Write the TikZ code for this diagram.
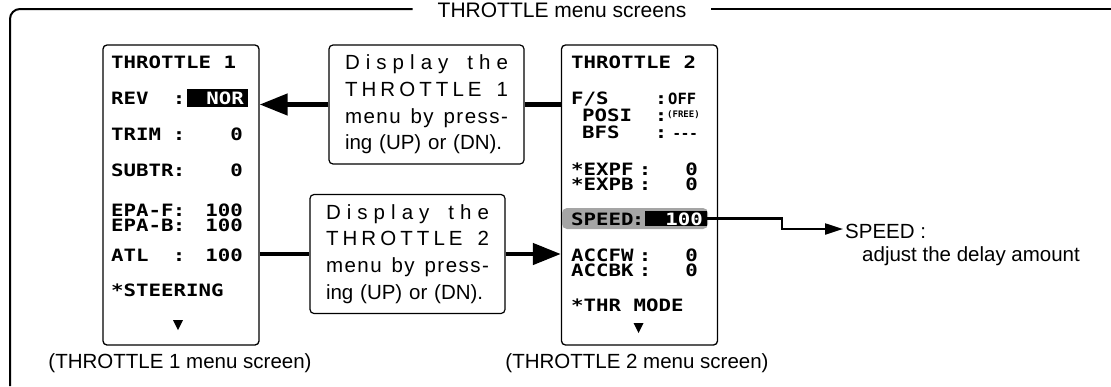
\documentclass[tikz,border=0pt]{standalone}
\usepackage{fontspec}
\setmainfont{Liberation Sans}
\newfontfamily\lcd[FakeStretch=1.22]{DejaVu Sans Mono}
\newfontfamily\lcdsm{DejaVu Sans Mono}
\usetikzlibrary{arrows.meta}
\definecolor{hlgray}{RGB}{165,165,165}
\begin{document}
\begin{tikzpicture}[x=1pt,y=-1pt,
  lcdtxt/.style={inner sep=0pt,font=\lcd\bfseries\fontsize{17}{17}\selectfont},
  lbl/.style={lcdtxt,anchor=base west},
  val/.style={lcdtxt,anchor=base east},
  colon/.style={lcdtxt,anchor=base},
  narrow/.style={inner sep=0pt,font=\lcdsm\bfseries\fontsize{15.5}{15.5}\selectfont},
  screen/.style={draw,line width=1.3pt,rounded corners=4pt,minimum width=156pt,minimum height=300pt,inner sep=0pt},
  tbox/.style={draw,line width=1.2pt,rounded corners=4pt,minimum width=195pt,minimum height=119pt,align=left,text width=163pt,inner sep=0pt,font=\fontsize{20.5}{26.7}\selectfont},
  fat/.style={line width=4.5pt},
  fatarrow/.style={line width=4.5pt,-{Triangle[length=28pt,width=21pt]}},
  thinarrow/.style={line width=2.2pt,-{Triangle[length=18pt,width=11pt]}},
  plain/.style={inner sep=0pt,font=\fontsize{20.5}{24}\selectfont},
  blk/.style={fill=black,inner sep=0pt}
]
\useasboundingbox (0,0) rectangle (1111,386);

% outer frame with title
\node[plain,font=\fontsize{21}{24}\selectfont,inner xsep=25pt,anchor=base] (title) at (562,17) {THROTTLE menu screens};
\coordinate (ftop) at (0,9);
\coordinate (fbot) at (10,386);
\coordinate (fright) at (1111,9);
\draw[line width=2pt,rounded corners=10pt] (fbot) -- (10,9) -- (title.west |- ftop);
\draw[line width=2pt] (title.east |- ftop) -- (fright);

% screens
\node[screen] (s1) at (181,195) {};
\node[screen] (s2) at (639.5,195) {};

% screen 1 contents
\node[lbl] (l1) at (111,68.5) {THROTTLE 1};
\node[blk,minimum width=61pt,minimum height=18pt] (norbox) at (217.5,98) {};
\node[lbl] (l2) at (111,104.5) {REV};
\node[colon] (l2c) at (179,104.5) {:};
\node[val,text=white] (l2v) at (244,104.5) {NOR};
\node[lbl] (l3) at (111,140.5) {TRIM};
\node[colon] (l3c) at (179,140.5) {:};
\node[val] (l3v) at (243,140.5) {0};
\node[lbl] (l4) at (111,176.5) {SUBTR};
\node[colon] (l4c) at (179,176.5) {:};
\node[val] (l4v) at (243,176.5) {0};
\node[lbl] (l5) at (111,216.5) {EPA-F};
\node[colon] (l5c) at (179,216.5) {:};
\node[val] (l5v) at (243,216.5) {100};
\node[lbl] (l6) at (111,231.5) {EPA-B};
\node[colon] (l6c) at (179,231.5) {:};
\node[val] (l6v) at (243,231.5) {100};
\node[lbl] (l7) at (111,261.5) {ATL};
\node[colon] (l7c) at (179,261.5) {:};
\node[val] (l7v) at (243,261.5) {100};
\node[lbl] (l8) at (111,296.5) {*STEERING};
\fill (173,320) -- (183,320) -- (178,330) -- cycle;

% screen 2 contents
\node[lbl] (r1) at (571,68.5) {THROTTLE 2};
\node[lbl] (r2) at (571,104.5) {F/S};
\node[colon] (r2c) at (661,104.5) {:};
\node[narrow,anchor=base west] (r2v) at (668,104.5) {OFF};
\node[lbl] (r3) at (582,121.5) {POSI};
\node[colon] (r3c) at (661,121.5) {:};
\node[inner sep=0pt,anchor=base west,font=\lcdsm\bfseries\fontsize{9}{9}\selectfont] (r3v) at (667,117.5) {(FREE)};
\node[lbl] (r4) at (582,138.5) {BFS};
\node[colon] (r4c) at (661,138.5) {:};
\node[narrow,anchor=base east,font=\lcdsm\bfseries\fontsize{14}{14}\selectfont] (r4v) at (698,138.5) {---};
\node[lbl] (r5) at (571,175.5) {*EXPF};
\node[colon] (r5c) at (645,175.5) {:};
\node[val] (r5v) at (698,175.5) {0};
\node[lbl] (r6) at (571,190.5) {*EXPB};
\node[colon] (r6c) at (645,190.5) {:};
\node[val] (r6v) at (698,190.5) {0};
\node[fill=hlgray,rounded corners=5pt,minimum width=146pt,minimum height=21pt,inner sep=0pt] (hl) at (635,218.5) {};
\node[blk,minimum width=62pt,minimum height=15pt] (spdbox) at (676,218.5) {};
\node[lbl] (r7) at (571,225) {SPEED};
\node[colon] (r7c) at (638,225) {:};
\node[val,text=white] (r7v) at (703,225) {100};
\node[lbl] (r8) at (571,261.5) {ACCFW};
\node[colon] (r8c) at (645,261.5) {:};
\node[val] (r8v) at (698,261.5) {0};
\node[lbl] (r9) at (571,276.5) {ACCBK};
\node[colon] (r9c) at (645,276.5) {:};
\node[val] (r9v) at (698,276.5) {0};
\node[lbl] (r10) at (571,311.5) {*THR MODE};
\fill (633.5,323) -- (643.5,323) -- (638.5,333) -- cycle;

% explanation boxes
\node[tbox] (b1) at (426.5,104.5) {%
\makebox[163pt][s]{D\hfil i\hfil s\hfil p\hfil l\hfil a\hfil y\hfil\ \hfil t\hfil h\hfil e}\\
\makebox[163pt][s]{T\hfil H\hfil R\hfil O\hfil T\hfil T\hfil L\hfil E\hfil\ \hfil 1}\\
\makebox[163pt][s]{m\hfil e\hfil n\hfil u\hfil\ \hfil b\hfil y\hfil\ \hfil p\hfil r\hfil e\hfil s\hfil s\hfil -}\\
ing (UP) or (DN).};
\node[tbox] (b2) at (407.5,254) {%
\makebox[163pt][s]{D\hfil i\hfil s\hfil p\hfil l\hfil a\hfil y\hfil\ \hfil t\hfil h\hfil e}\\
\makebox[163pt][s]{T\hfil H\hfil R\hfil O\hfil T\hfil T\hfil L\hfil E\hfil\ \hfil 2}\\
\makebox[163pt][s]{m\hfil e\hfil n\hfil u\hfil\ \hfil b\hfil y\hfil\ \hfil p\hfil r\hfil e\hfil s\hfil s\hfil -}\\
ing (UP) or (DN).};

% arrows between screens
\draw[fat] (s2.west |- b1.east) -- (b1.east);
\draw[fatarrow] (b1.west) -- (s1.east |- b1.west);
\draw[fat] (s1.east |- b2.west) -- (b2.west);
\draw[fatarrow] (b2.east) -- (s2.west |- b2.east);

% SPEED callout
\node[plain,anchor=base west] (spd) at (845,238) {SPEED :};
\node[plain,anchor=base west] (adj) at (862,261) {adjust the delay amount};
\coordinate (k1) at (782,218.5);
\coordinate (k2) at (782,229);
\coordinate (k3) at (843,229);
\draw[thinarrow] (spdbox.east) -- (k1) -- (k2) -- (k3);

% captions
\node[plain,anchor=base] (c1) at (180,368) {(THROTTLE 1 menu screen)};
\node[plain,anchor=base] (c2) at (637,368) {(THROTTLE 2 menu screen)};
\end{tikzpicture}
\end{document}
